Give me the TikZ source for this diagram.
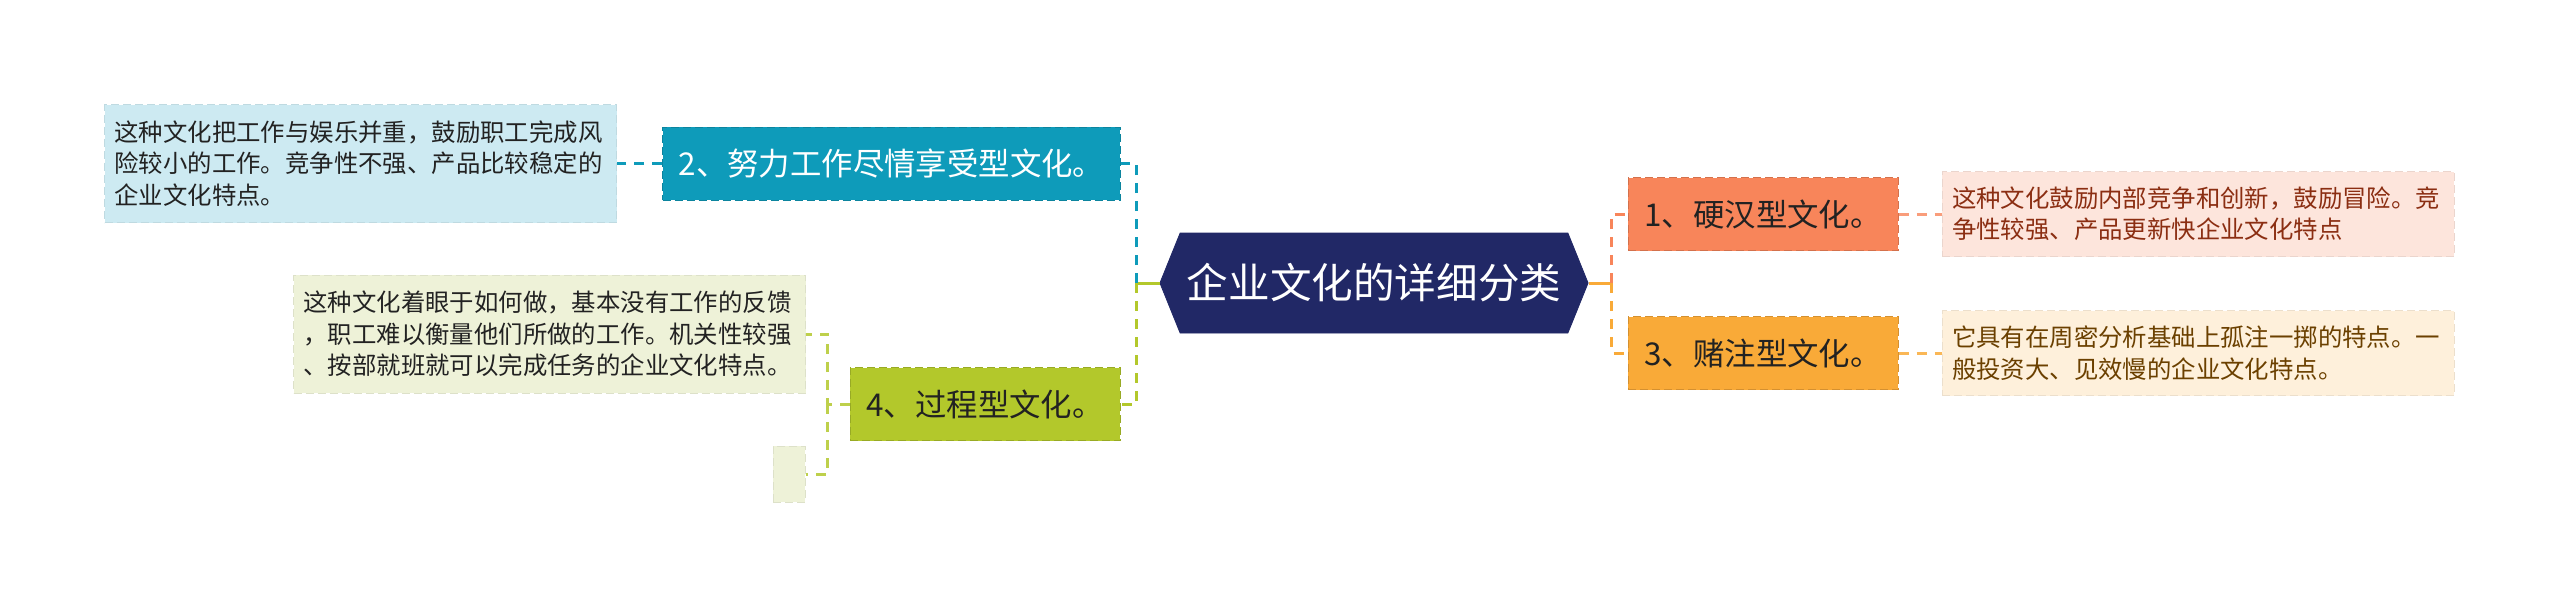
\documentclass[tikz,border=0pt]{standalone}
\usepackage{fontspec}
\setmainfont{Noto Sans CJK SC}
\usetikzlibrary{shapes, shapes.symbols, positioning}

\definecolor{navy}{RGB}{33,40,102}
\definecolor{teal}{RGB}{14,155,186}
\definecolor{tealpale}{RGB}{205,234,242}
\definecolor{lime}{RGB}{179,200,43}
\definecolor{limepale}{RGB}{238,242,216}
\definecolor{salmon}{RGB}{248,133,90}
\definecolor{salmonpale}{RGB}{253,229,220}
\definecolor{gold}{RGB}{249,170,56}
\definecolor{goldpale}{RGB}{254,240,219}
\definecolor{ink}{RGB}{34,34,34}
\definecolor{redink}{RGB}{139,46,18}
\definecolor{brownink}{RGB}{107,64,0}

\begin{document}
\begin{tikzpicture}[x=0.5pt,y=-0.5pt,on grid,
	branch/.style={fill=#1, draw=#1!85!black, dash pattern=on 4pt off 2pt, line width=0.5pt,
		minimum height=36.5pt, inner xsep=8pt, text=ink, font=\fontsize{15.7pt}{18pt}\selectfont},
	note/.style={fill=#1, draw=#1!93!black, dash pattern=on 4pt off 2pt, line width=0.5pt,
		text width=246pt, align=left, inner xsep=5pt, text=ink, font=\fontsize{12.2pt}{15.7pt}\selectfont},
	link/.style={draw=#1, line width=1.5pt, dash pattern=on 5pt off 4pt},
	stem/.style={draw=#1, line width=1.5pt}]
	\useasboundingbox (0,0) rectangle (2560,607);
	
	% root
	\node[signal, signal to=west and east, signal pointer angle=136, fill=navy, draw=navy,
		minimum width=209pt, minimum height=50pt, text=white,
		font=\fontsize{20.8pt}{24pt}\selectfont] (root) at (1374,283) {企业文化的详细分类};
	
	% left side
	\node[branch=teal, text=white, minimum width=228.5pt] (n2) [above left=59.75pt and 241.25pt of root] {2、努力工作尽情享受型文化。};
	\node[note=tealpale, minimum height=59pt] (d2) [left=265.5pt of n2] {这种文化把工作与娱乐并重，鼓励职工完成风\\险较小的工作。竞争性不强、产品比较稳定的\\企业文化特点。};
	\node[branch=lime, minimum width=135pt] (n4) [below left=60.5pt and 194.5pt of root] {4、过程型文化。};
	\node[note=limepale, minimum height=59pt] (d4) [above left=35pt and 217.75pt of n4] {这种文化着眼于如何做，基本没有工作的反馈\\，职工难以衡量他们所做的工作。机关性较强\\、按部就班就可以完成任务的企业文化特点。};
	\node[fill=limepale, draw=limepale!93!black, dash pattern=on 4pt off 2pt, line width=0.5pt,
		minimum width=16pt, minimum height=28pt, inner sep=0pt] (e4) [below left=35pt and 98pt of n4] {};
	
	% right side
	\node[branch=salmon, minimum width=135pt] (n1) [above right=34.5pt and 194.5pt of root] {1、硬汉型文化。};
	\node[note=salmonpale, text=redink, minimum height=42.5pt] (d1) [right=217.5pt of n1] {这种文化鼓励内部竞争和创新，鼓励冒险。竞\\争性较强、产品更新快企业文化特点};
	\node[branch=gold, minimum width=135pt] (n3) [below right=35pt and 194.5pt of root] {3、赌注型文化。};
	\node[note=goldpale, text=brownink, minimum height=42.5pt] (d3) [right=217.5pt of n3] {它具有在周密分析基础上孤注一掷的特点。一\\般投资大、见效慢的企业文化特点。};
	
	\coordinate (lj) at ([xshift=-11.5pt]root.west);
	\coordinate (lk) at ([xshift=-11pt]n4.west);
	\coordinate (rj) at ([xshift=11.5pt]root.east);
	
	\draw[stem=lime] (root.west) -- (lj);
	\draw[link=teal] (lj) |- (n2);
	\draw[link=lime] (lj) |- (n4);
	\draw[link=teal] (n2) -- (d2);
	\draw[link=lime!85!white] (n4) -- (lk) |- (d4);
	\draw[link=lime!85!white] (lk) |- (e4);
	
	\draw[stem=gold] (root.east) -- (rj);
	\draw[link=salmon] (rj) |- (n1);
	\draw[link=gold] (rj) |- (n3);
	\draw[link=salmon!80!white] (n1) -- (d1);
	\draw[link=gold!85!white] (n3) -- (d3);
\end{tikzpicture}
\end{document}
